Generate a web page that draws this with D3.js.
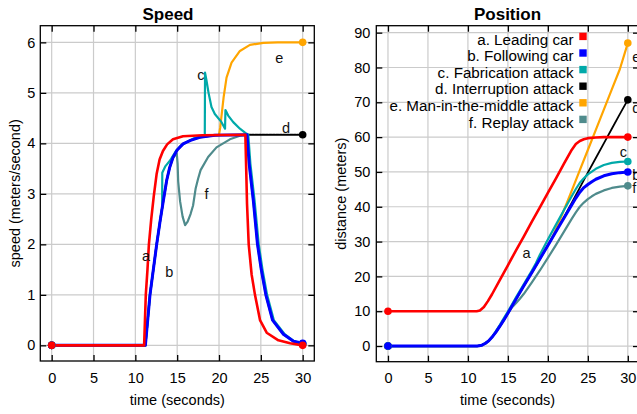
<!DOCTYPE html>
<html>
<head>
<meta charset="utf-8">
<script src="https://cdn.jsdelivr.net/npm/d3@7"></script>
<style>
body { margin: 0; background: #fff; }
svg { display: block; font-family: "Liberation Sans", Arial, sans-serif; }
.grid line { stroke: #cbcbcb; stroke-width: 1.2; }
.curve { fill: none; stroke-linejoin: round; stroke-linecap: round; }
</style>
</head>
<body>
<svg id="chart" width="637" height="414"></svg>
<script>

// ---- data ----
const legendLabels = ["a. Leading car", "b. Following car", "c. Fabrication attack",
    "d. Interruption attack", "e. Man-in-the-middle attack", "f. Replay attack"];
const letters = ["a", "b", "c", "d", "e", "f"];
const timeTicks = [0, 5, 10, 15, 20, 25, 30];
const speedTicks = [0, 1, 2, 3, 4, 5, 6];
const distTicks = [0, 10, 20, 30, 40, 50, 60, 70, 80, 90];

// speed (m/s) vs time (s)
const speedLeading = [[0,0],[11.05,0],[11.15,0.5],[11.25,1],[11.45,1.5],[11.62,2],[11.9,2.5],[12.2,2.95],
    [12.55,3.4],[12.9,3.68],[13.3,3.85],[13.8,3.98],[14.5,4.08],[15.7,4.14],[18,4.16],[23.15,4.17],
    [23.25,3.5],[23.35,2.8],[23.55,2],[23.9,1.4],[24.3,1],[24.9,0.5],[25.7,0.25],[27.1,0.1],[28.5,0.04],[30,0]];
const speedFollowing = [[0,0],[11.2,0],[11.45,0.45],[11.75,1],[12.15,1.5],[12.55,2],[12.95,2.45],[13.35,2.87],
    [13.75,3.27],[14.1,3.52],[14.5,3.72],[15,3.87],[15.7,3.99],[16.6,4.06],[17.7,4.12],[19.5,4.16],[23.35,4.17],
    [23.6,3.6],[24.1,2.87],[24.6,2],[25.05,1.5],[25.6,1],[26.4,0.5],[27.7,0.22],[28.9,0.08],[30,0.04]];
const speedFabrication = [[0,0],[11.2,0],[11.45,0.45],[11.75,1],[12.15,1.5],[12.55,2],[12.95,2.45],[13.2,2.72],
    [13.22,3.42],[13.6,3.55],[14.15,3.66],[14.9,3.86],[15.5,3.96],[16.1,4.02],[17,4.1],[18.3,4.16],[18.33,5.4],
    [18.5,5.25],[18.75,5],[19.1,4.72],[19.5,4.58],[20.3,4.42],[20.72,4.29],[20.77,4.66],[21.1,4.55],[21.7,4.42],
    [22.5,4.29],[23.3,4.19],[23.5,4.17],[23.75,3.6],[24.25,2.87],[24.75,2],[25.2,1.5],[25.75,1],[26.55,0.5],
    [27.85,0.22],[29,0.08],[30,0.03]];
const speedInterruption = [[0,0],[11.2,0],[11.45,0.45],[11.75,1],[12.15,1.5],[12.55,2],[12.95,2.45],[13.35,2.87],
    [13.75,3.27],[14.1,3.52],[14.5,3.72],[15,3.87],[15.7,3.99],[16.6,4.06],[17.7,4.12],[19.5,4.16],[23.35,4.17],[30,4.17]];
const speedMitm = [[0,0],[11.2,0],[11.45,0.45],[11.75,1],[12.15,1.5],[12.55,2],[12.95,2.45],[13.35,2.87],
    [13.75,3.27],[14.1,3.52],[14.5,3.72],[15,3.87],[15.7,3.99],[16.6,4.06],[17.7,4.12],[19.5,4.16],[20,4.17],
    [20.15,4.32],[20.55,4.91],[20.9,5.3],[21.5,5.6],[22.5,5.83],[23.7,5.95],[25.3,5.99],[27,6],[30,6]];
const speedReplay = [[0,0],[11.2,0],[11.45,0.45],[11.75,1],[12.15,1.5],[12.55,2],[12.95,2.45],[13.35,2.87],
    [13.75,3.27],[14.1,3.52],[14.5,3.72],[14.95,3.8],[15.05,3.6],[15.12,3.25],[15.35,2.85],[15.65,2.55],[15.95,2.38],
    [16.25,2.45],[16.6,2.6],[16.9,2.77],[17.2,3.1],[17.5,3.3],[17.8,3.47],[18.7,3.73],[19.7,3.92],[21.3,4.08],
    [22.5,4.15],[23.35,4.17],[23.6,3.6],[24.1,2.87],[24.6,2],[25.05,1.5],[25.6,1],[26.4,0.5],[27.7,0.22],
    [28.9,0.08],[30,0.03]];

// distance (m) vs time (s)
const distLeading = [[0,10],[11.1,10],[11.5,10.2],[12,11.2],[12.5,12.9],[13,14.8],[14,19],[15,23.2],[16,27.4],
    [17,31.5],[18,35.7],[19,39.8],[20,44],[21,48.1],[22,52.3],[23,56.4],[23.5,58],[24,58.9],[24.5,59.4],
    [25,59.7],[26,59.9],[27,60],[30,60]];
const distFollowing = [[0,0],[11.2,0],[11.75,0.25],[12.2,0.8],[12.55,1.4],[13,2.5],[13.5,4],[14,5.7],[14.5,7.5],
    [15,9.4],[16,13.4],[17,17.3],[18,21.1],[19,25],[20,28.9],[21,32.8],[22,36.7],[23,40.6],[23.5,42.5],[24,44.2],
    [24.5,45.5],[25,46.4],[25.5,47.2],[26,47.9],[27,48.9],[28,49.5],[29,49.8],[30,50]];
const distFabrication = [[0,0],[11.2,0],[11.75,0.25],[12.2,0.8],[12.55,1.4],[13,2.5],[13.5,4.3],[14,6.1],[14.5,8],
    [15,9.9],[16,13.9],[17,17.8],[18,21.7],[18.5,23.8],[19,26.2],[20,30.6],[21,34.8],[22,39],[23,43.1],[23.5,45.1],
    [24,46.9],[24.5,48.2],[25,49.3],[26,50.9],[27,52],[28,52.6],[29,52.9],[30,53]];
const distInterruption = [[0,0],[11.2,0],[11.75,0.25],[12.2,0.8],[12.55,1.4],[13,2.5],[13.5,4],[14,5.7],[14.5,7.5],
    [15,9.4],[16,13.4],[17,17.3],[18,21.1],[19,25],[20,28.9],[21,32.8],[22,36.9],[23,41.2],[24,45.5],[25,49.8],
    [26,54],[27,58.2],[28,62.4],[29,66.6],[30,70.7]];
const distMitm = [[0,0],[11.2,0],[11.75,0.25],[12.2,0.8],[12.55,1.4],[13,2.5],[13.5,4],[14,5.7],[14.5,7.5],
    [15,9.4],[16,13.4],[17,17.3],[18,21.1],[19,25],[20,28.9],[20.5,31],[21,33.5],[21.5,36.2],[22,39],
    [22.5,41.8],[23,44.7],[24,50.5],[25,56.3],[26,62.1],[27,67.9],[28,73.7],[29,79.5],[30,87]];
const distReplay = [[0,0],[11.2,0],[11.75,0.25],[12.2,0.8],[12.55,1.4],[13,2.5],[13.5,4],[14,5.7],[14.5,7.5],
    [15,9.4],[15.5,11.1],[16,12.3],[16.5,13.6],[17,15],[17.5,16.6],[18,18.3],[18.5,20],[19,21.7],[20,25.3],
    [21,29],[22,32.8],[23,36.6],[23.5,38.4],[24,40],[24.5,41.2],[25,42.2],[25.5,43],[26,43.7],[27,44.7],
    [28,45.4],[29,45.8],[30,46]];

// where the little letters sit (time, value)
const speedLetterPos = [[11.27,1.77],[14.05,1.46],[17.84,5.35],[28.0,4.31],[27.2,5.7],[18.5,3.0]];
const distLetterPos = [[16.84,26.6],[30.55,49.1],[29.0,55.8],[30.55,68.3],[30.55,83],[30.55,45.3]];

const colors = ["#ff0000", "#0000ff", "#00a9a9", "#000000", "#ffa500", "#4f8b8c"];
const widths = [2.6, 3, 2.2, 1.8, 2.2, 2.2];
// which series go on top: red last
const drawOrder = [4, 3, 5, 2, 1, 0];

const svg = d3.select("#chart");

function panel(p) {

    const x = d3.scaleLinear().domain(p.xDomain).range([p.x0, p.x1]);
    const y = d3.scaleLinear().domain(p.yDomain).range([p.y1, p.y0]);
    const g = svg.append("g");

    svg.append("clipPath").attr("id", "clip-" + p.id)
        .append("rect")
        .attr("x", p.x0).attr("y", p.y0)
        .attr("width", p.x1 - p.x0).attr("height", p.y1 - p.y0);

    // grid
    const grid = g.append("g").attr("class", "grid");
    grid.selectAll(".gx").data(timeTicks).enter().append("line")
        .attr("x1", function(d) { return x(d); })
        .attr("x2", function(d) { return x(d); })
        .attr("y1", p.y0).attr("y2", p.y1);
    grid.selectAll(".gy").data(p.yTicks).enter().append("line")
        .attr("y1", function(d) { return y(d); })
        .attr("y2", function(d) { return y(d); })
        .attr("x1", p.x0).attr("x2", p.x1);

    // curves
    const line = d3.line()
        .x(function(d) { return x(d[0]); })
        .y(function(d) { return y(d[1]); });

    const plot = g.append("g").attr("clip-path", "url(#clip-" + p.id + ")");

    drawOrder.forEach(function(i) {
        plot.append("path")
            .attr("class", "curve")
            .attr("d", line(p.series[i]))
            .attr("stroke", colors[i])
            .attr("stroke-width", widths[i])
            .attr("stroke-dasharray", (i == 3 && p.id == "speed") ? "2.5,1" : null);
    });

    drawOrder.forEach(function(i) {
        const s = p.series[i];
        const ends = [s[0], s[s.length - 1]];
        plot.selectAll(null).data(ends).enter().append("circle")
            .attr("cx", function(d) { return x(d[0]); })
            .attr("cy", function(d) { return y(d[1]); })
            .attr("r", 3.8)
            .attr("fill", colors[i]);
    });

    // letters next to the curves
    g.selectAll(null).data(p.letterPos).enter().append("text")
        .attr("x", function(d) { return x(d[0]); })
        .attr("y", function(d) { return y(d[1]); })
        .attr("dy", "0.35em")
        .attr("text-anchor", p.letterAnchor)
        .attr("font-size", 14.5)
        .attr("fill", "#111")
        .text(function(d, i) { return letters[i]; });

    // frame
    g.append("rect")
        .attr("x", p.x0).attr("y", p.y0)
        .attr("width", p.x1 - p.x0).attr("height", p.y1 - p.y0)
        .attr("fill", "none").attr("stroke", "#000").attr("stroke-width", 1.3);

    // ticks on all four sides, pointing in
    const fmt = d3.format("d");
    const bottom = g.append("g").attr("transform", "translate(0," + p.y1 + ")")
        .call(d3.axisBottom(x).tickValues(timeTicks).tickSize(-6).tickPadding(11.5).tickFormat(fmt));
    const left = g.append("g").attr("transform", "translate(" + p.x0 + ",0)")
        .call(d3.axisLeft(y).tickValues(p.yTicks).tickSize(-6).tickPadding(p.yPad).tickFormat(fmt));
    g.append("g").attr("transform", "translate(0," + p.y0 + ")")
        .call(d3.axisTop(x).tickValues(timeTicks).tickSize(-6).tickFormat(""));
    g.append("g").attr("transform", "translate(" + p.x1 + ",0)")
        .call(d3.axisRight(y).tickValues(p.yTicks).tickSize(-6).tickFormat(""));

    g.selectAll(".domain").remove();
    g.selectAll(".tick line").attr("stroke", "#000").attr("stroke-width", 1.3);
    [bottom, left].forEach(function(a) {
        a.attr("font-size", 14.5).attr("font-family", null);
        a.selectAll("text").attr("fill", "#000");
    });

    // titles
    g.append("text")
        .attr("x", p.titleX).attr("y", 19.5)
        .attr("text-anchor", "middle")
        .attr("font-size", 17).attr("font-weight", "bold")
        .text(p.title);

    g.append("text")
        .attr("x", (p.x0 + p.x1) / 2).attr("y", 404.5)
        .attr("text-anchor", "middle")
        .attr("font-size", 14.5)
        .text("time (seconds)");

    g.append("text")
        .attr("transform", "translate(" + p.yLabelX + "," + ((p.y0 + p.y1) / 2) + ") rotate(-90)")
        .attr("text-anchor", "middle")
        .attr("font-size", 14.5)
        .text(p.yLabel);

    return { x: x, y: y, g: g };
}

panel({
    id: "speed", title: "Speed", titleX: 168,
    x0: 40.3, x1: 314.3, y0: 25.7, y1: 361,
    xDomain: [-1.36, 31.39], yDomain: [-0.31, 6.33],
    yTicks: speedTicks, yPad: 5,
    yLabel: "speed (meters/second)", yLabelX: 19.5,
    series: [speedLeading, speedFollowing, speedFabrication, speedInterruption, speedMitm, speedReplay],
    letterPos: speedLetterPos, letterAnchor: "middle"
});

const pos = panel({
    id: "position", title: "Position", titleX: 507.5,
    x0: 376.3, x1: 639, y0: 25.7, y1: 361.7,
    xDomain: [-1.46, 31.4], yDomain: [-4.5, 92],
    yTicks: distTicks, yPad: 6,
    yLabel: "distance (meters)", yLabelX: 346,
    series: [distLeading, distFollowing, distFabrication, distInterruption, distMitm, distReplay],
    letterPos: distLetterPos, letterAnchor: "start"
});

// legend, right aligned, top of the position panel
const legend = pos.g.append("g");
legend.selectAll("text").data(legendLabels).enter().append("text")
    .attr("x", 573.5)
    .attr("y", function(d, i) { return 44.6 + i * 16.6; })
    .attr("text-anchor", "end")
    .attr("font-size", 15.2)
    .text(function(d) { return d; });
legend.selectAll("rect").data(legendLabels).enter().append("rect")
    .attr("x", 579.3)
    .attr("y", function(d, i) { return 32.7 + i * 16.6; })
    .attr("width", 7.4).attr("height", 7.4)
    .attr("fill", function(d, i) { return colors[i]; });

</script>
</body>
</html>
